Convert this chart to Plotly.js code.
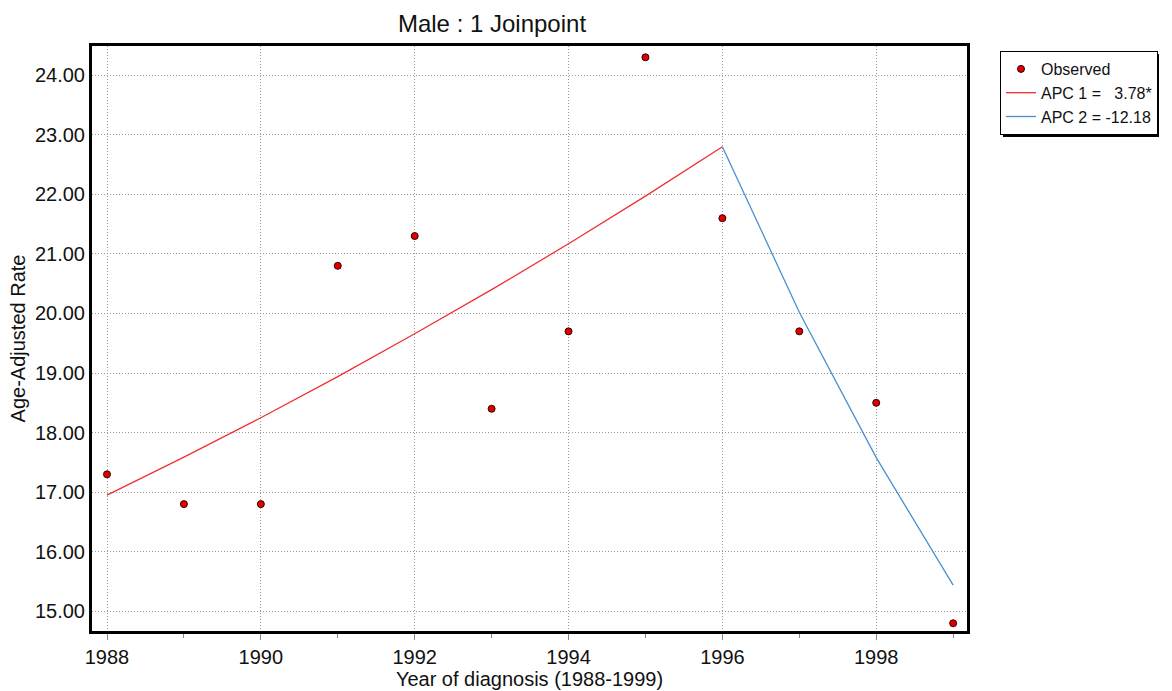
<!DOCTYPE html>
<html><head><meta charset="utf-8">
<script src="https://cdn.plot.ly/plotly-3.0.1.min.js"></script>
<style>html,body{margin:0;padding:0;background:#fff;}#chart{width:1172px;height:691px;}</style>
</head><body><div id="chart"></div>
<script>
const years = [1988,1989,1990,1991,1992,1993,1994,1995,1996,1997,1998,1999];
const observed = [17.3,16.8,16.8,20.8,21.3,18.4,19.7,24.3,21.6,19.7,18.5,14.8];
const seg1Years = [1988,1989,1990,1991,1992,1993,1994,1995,1996];
const seg1Fit = [16.95,17.59,18.25,18.94,19.66,20.40,21.17,21.97,22.80];
const seg2Years = [1996,1997,1998,1999];
const seg2Fit = [22.80,20.02,17.58,15.44];
const legendNames = ['Observed','APC 1 =   3.78*','APC 2 = -12.18'];
const titleText = 'Male : 1 Joinpoint';
const xTitle = 'Year of diagnosis (1988-1999)';
const yTitle = 'Age-Adjusted Rate';
const yTicks = [15,16,17,18,19,20,21,22,23,24];
const xTicks = [1988,1990,1992,1994,1996,1998];

const fam = '"Liberation Sans", Arial, sans-serif';
const traces = [
  {x:years, y:observed, mode:'markers', name:legendNames[0],
   marker:{color:'#e00000', size:7, line:{color:'#300', width:1}}},
  {x:seg1Years, y:seg1Fit, mode:'lines', name:legendNames[1], line:{color:'#f03030', width:1.3}},
  {x:seg2Years, y:seg2Fit, mode:'lines', name:legendNames[2], line:{color:'#4a90d0', width:1.3}}
];
const layout = {
  width:1172, height:691,
  margin:{l:92, r:205, t:46, b:60},
  paper_bgcolor:'#fff', plot_bgcolor:'#fff',
  font:{family:fam, size:20, color:'#111'},
  title:{text:titleText, x:492/1172, xanchor:'center', xref:'container', y:1-24/691, yanchor:'middle', yref:'container', font:{family:fam, size:24, color:'#111'}},
  xaxis:{range:[1987.805,1999.18], tickvals:xTicks, ticktext:xTicks.map(String),
    tickfont:{family:fam, size:20, color:'#111'},
    showgrid:true, gridcolor:'#9a9a9a', griddash:'1px,2px', gridwidth:1,
    showline:true, linecolor:'#000', linewidth:3, mirror:true,
    ticks:'outside', ticklen:6, tickcolor:'#888', zeroline:false,
    minor:{tickvals:[1989,1991,1993,1995,1997,1999], ticks:'outside', ticklen:4, tickcolor:'#888', showgrid:false},
    title:{text:xTitle, standoff:0, font:{family:fam, size:20, color:'#111'}}},
  yaxis:{range:[14.67,24.49], tickvals:yTicks, ticktext:yTicks.map(v=>v.toFixed(2)),
    tickfont:{family:fam, size:20, color:'#111'},
    showgrid:true, gridcolor:'#9a9a9a', griddash:'1px,2px', gridwidth:1,
    showline:true, linecolor:'#000', linewidth:3, mirror:true,
    ticks:'', zeroline:false,
    title:{text:yTitle, standoff:4, font:{family:fam, size:20, color:'#111'}}},
  showlegend:true,
  legend:{xref:'container', yref:'container', x:1000/1172, y:1-51/691, xanchor:'left', yanchor:'top', bgcolor:'#fff', bordercolor:'#000', borderwidth:1,
    font:{family:fam, size:16, color:'#111'}, itemwidth:30, tracegroupgap:0},
  shapes:[{type:'rect', xref:'paper', yref:'paper', x0:(1003-92)/875, x1:(1159-92)/875, y0:1-(137-46)/585, y1:1-(54-46)/585, fillcolor:'#000', line:{width:0}, layer:'below'}]
};
Plotly.newPlot('chart', traces, layout, {displayModeBar:false, staticPlot:true});
</script></body></html>
